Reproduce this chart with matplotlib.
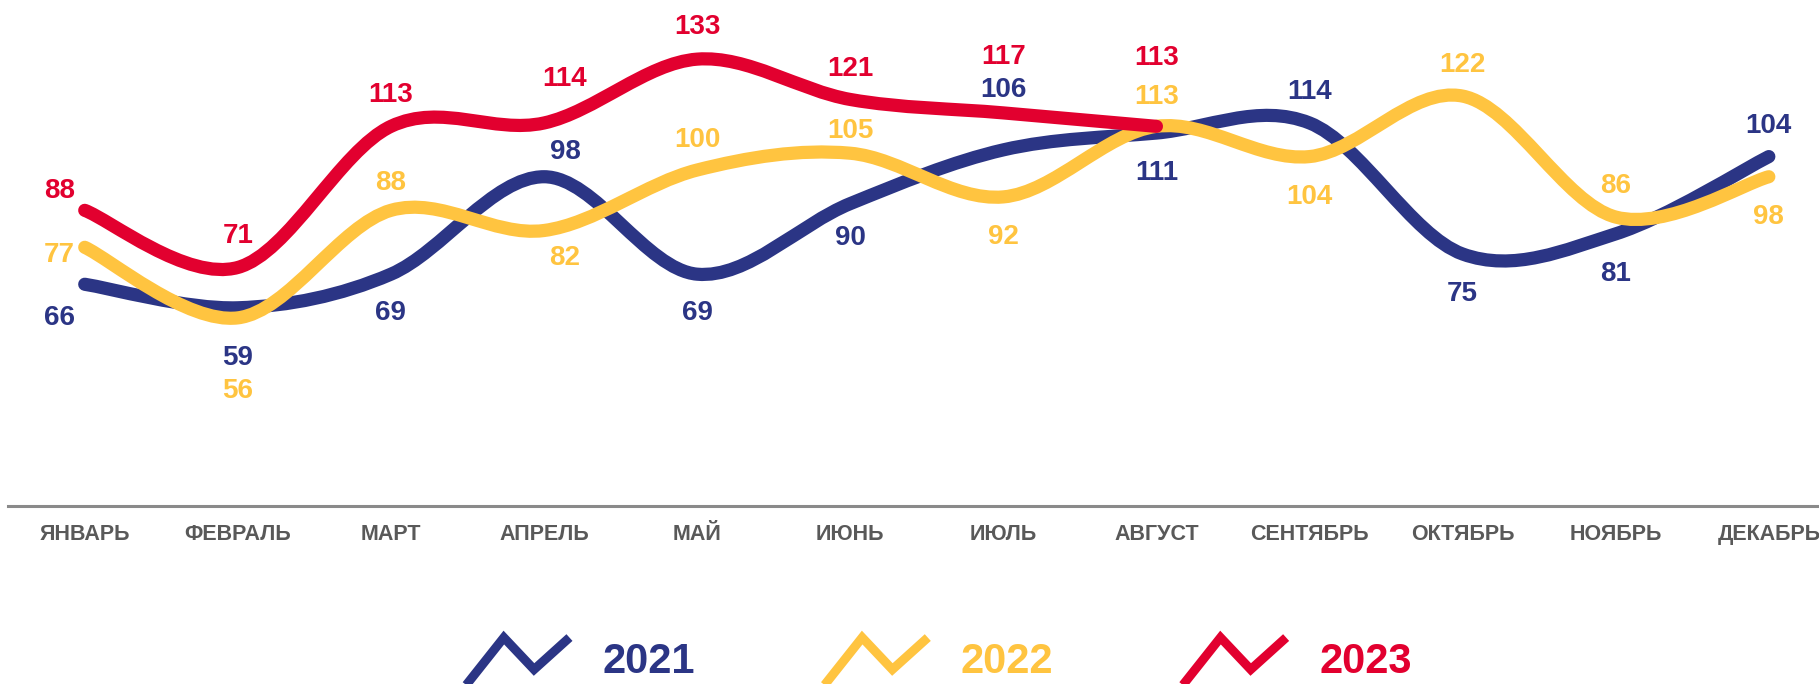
import numpy as np
import matplotlib
matplotlib.use("Agg")
import matplotlib.pyplot as plt
from matplotlib.path import Path
from matplotlib.patches import PathPatch
from matplotlib.legend_handler import HandlerBase
from matplotlib.lines import Line2D

plt.rcParams['font.family'] = ['Liberation Sans', 'DejaVu Sans']

# ---------------- data ----------------
months = ["ЯНВАРЬ", "ФЕВРАЛЬ", "МАРТ", "АПРЕЛЬ", "МАЙ", "ИЮНЬ",
          "ИЮЛЬ", "АВГУСТ", "СЕНТЯБРЬ", "ОКТЯБРЬ", "НОЯБРЬ", "ДЕКАБРЬ"]
series_names = ["2021", "2022", "2023"]
v2021 = [66, 59, 69, 98, 69, 90, 106, 111, 114, 75, 81, 104]
v2022 = [77, 56, 88, 82, 100, 105, 92, 113, 104, 122, 86, 98]
v2023 = [88, 71, 113, 114, 133, 121, 117, 113]

# label offsets in pixels (dx, dy), dy positive = downwards
off2021 = [(-25, 31), (0, 47), (0, 36), (21, -28), (0, 36), (0, 31),
           (0, -63), (0, 37), (0, -34), (0, 37), (0, 37), (0, -34)]
off2022 = [(-25, 5), (0, 70), (0, -30), (21, 25), (0, -33), (0, -25),
           (0, 37), (0, -32), (0, 37), (0, -34), (0, -34), (0, 37)]
off2023 = [(-25, -22), (0, -34), (0, -34), (21, -47), (0, -35), (0, -33),
           (0, -59), (0, -71)]
LABEL_SHIFT = 3  # global downward nudge in pixels

colors = {"2021": "#2B3585", "2022": "#FFC440", "2023": "#E2002F"}


def smooth_path(xs, ys):
    P = np.column_stack([xs, ys]).astype(float)
    n = len(P)
    verts = [P[0]]
    codes = [Path.MOVETO]
    for i in range(n - 1):
        p0 = P[i - 1] if i > 0 else P[i]
        p1 = P[i]
        p2 = P[i + 1]
        p3 = P[i + 2] if i + 2 < n else P[i + 1]
        c1 = p1 + (p2 - p0) / 6.0
        c2 = p2 - (p3 - p1) / 6.0
        verts += [c1, c2, p2]
        codes += [Path.CURVE4] * 3
    return Path(verts, codes)


class ZigzagHandler(HandlerBase):
    def create_artists(self, legend, orig_handle, xdescent, ydescent,
                       width, height, fontsize, trans):
        cy = height / 2.0 - ydescent
        xs = np.array([0.0, 0.37, 0.66, 1.0]) * width - xdescent
        ys = cy + np.array([-20.0, 15.0, -8.0, 15.0])
        line = Line2D(xs, ys, color=orig_handle.get_color(), lw=6.5,
                      solid_capstyle='butt', solid_joinstyle='miter',
                      transform=trans)
        return [line]


fig = plt.figure(figsize=(18.19, 6.84), dpi=100)
ax = fig.add_axes([0.0045, 0.2602, 1.0100, 0.7398])
ax.set_xlim(-0.5, 11.5)
ax.set_ylim(0, 150.6)

x = np.arange(len(months))
data = [(series_names[0], v2021, off2021),
        (series_names[1], v2022, off2022),
        (series_names[2], v2023, off2023)]

handles = []
for z, (name, vals, offs) in enumerate(data):
    xs = x[:len(vals)]
    path = smooth_path(xs, vals)
    patch = PathPatch(path, facecolor='none', edgecolor=colors[name],
                      lw=9.5, capstyle='round', joinstyle='round',
                      zorder=2 + z)
    ax.add_patch(patch)
    for xi, v, (dx, dy) in zip(xs, vals, offs):
        ax.annotate(str(v), (xi, v), xytext=(dx, -(dy + LABEL_SHIFT)),
                    textcoords='offset pixels', ha='center', va='center',
                    fontsize=20, fontweight='bold', color=colors[name],
                    annotation_clip=False, zorder=10)
    handles.append(Line2D([], [], color=colors[name], label=name))

ax.set_xticks(x)
ax.set_xticklabels(months, fontsize=15.5, fontweight='bold', color='#595959')
ax.tick_params(axis='x', length=0, pad=13)
ax.set_yticks([])
for s in ['left', 'right', 'top']:
    ax.spines[s].set_visible(False)
ax.spines['bottom'].set_color('#8a8a8a')
ax.spines['bottom'].set_linewidth(2.2)
ax.patch.set_alpha(0)

leg = fig.legend(handles=handles, loc='center', bbox_to_anchor=(0.5159, 0.0322),
                 ncol=3, frameon=False, handlelength=2.5, handletextpad=0.79,
                 columnspacing=3.09, borderpad=0, borderaxespad=0,
                 handler_map={Line2D: ZigzagHandler()},
                 prop={'size': 30, 'weight': 'bold'})
for t, name in zip(leg.get_texts(), series_names):
    t.set_color(colors[name])

fig.savefig("out.png", dpi=100)
